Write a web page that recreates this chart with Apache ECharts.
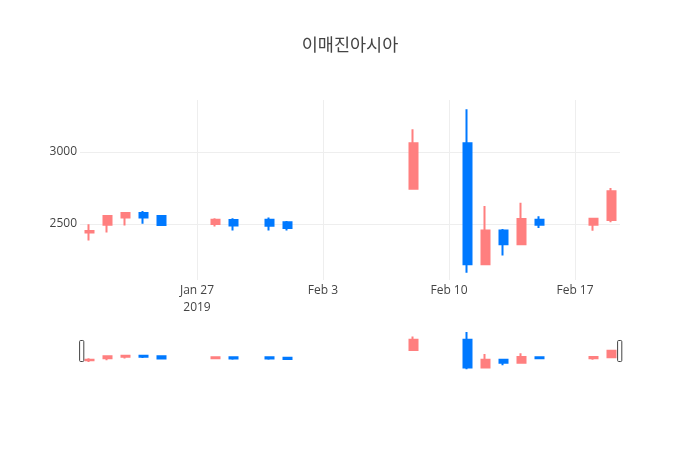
<!DOCTYPE html>
<html>
<head>
<meta charset="utf-8">
<script src="https://cdn.jsdelivr.net/npm/echarts@6/dist/echarts.min.js"></script>
<style>
html,body{margin:0;padding:0;background:#fff;}
#chart{width:700px;height:450px;}
</style>
</head>
<body>
<div id="chart"></div>
<script>
var titleText = '이매진아시아';
var dates = ['2019-01-21','2019-01-22','2019-01-23','2019-01-24','2019-01-25','2019-01-28','2019-01-29','2019-01-31','2019-02-01','2019-02-08','2019-02-11','2019-02-12','2019-02-13','2019-02-14','2019-02-15','2019-02-18','2019-02-19'];
var openVals  = [2440, 2495, 2545, 2576, 2555, 2500, 2527, 2530, 2512, 2745, 3060, 2220, 2455, 2360, 2530, 2495, 2528];
var closeVals = [2452, 2555, 2576, 2545, 2493, 2530, 2490, 2487, 2472, 3060, 2220, 2455, 2360, 2535, 2495, 2537, 2727];
var lowVals   = [2385, 2440, 2490, 2502, 2488, 2482, 2455, 2455, 2455, 2745, 2162, 2218, 2282, 2360, 2472, 2453, 2512];
var highVals  = [2498, 2558, 2580, 2590, 2560, 2540, 2540, 2545, 2520, 3158, 3296, 2625, 2465, 2648, 2553, 2540, 2750];
var xTickDates = ['2019-01-27','2019-02-03','2019-02-10','2019-02-17'];
var yTicks = [2500, 3000];
var xRange = ['2019-01-20T12:00:00Z', '2019-02-19T12:00:00Z'];
var yRange = [2111, 3361];

function ts(s){ return s.length > 10 ? Date.parse(s) : Date.parse(s + 'T00:00:00Z'); }
var months = ['Jan','Feb','Mar','Apr','May','Jun','Jul','Aug','Sep','Oct','Nov','Dec'];
var xTicks = xTickDates.map(ts);
var firstTick = xTicks[0];

var rows = dates.map(function(d, i){ return [ts(d), openVals[i], closeVals[i], lowVals[i], highVals[i]]; });

var upColor = '#FF7F7F';
var downColor = '#0079FF';
var fontFam = '"Open Sans", "Noto Sans CJK KR", sans-serif';

var candleStyle = {
  color: upColor, color0: downColor,
  borderColor: upColor, borderColor0: downColor,
  borderWidth: 2
};

var chart = echarts.init(document.getElementById('chart'), null, {renderer: 'canvas'});
chart.setOption({
  animation: false,
  backgroundColor: '#fff',
  title: {
    text: titleText, left: 'center', top: 31,
    textStyle: {fontSize: 17.5, fontWeight: 'normal', color: '#444', fontFamily: '"Noto Sans CJK KR", sans-serif'}
  },
  grid: [
    {left: 80, right: 80, top: 100, height: 180},
    {left: 80, right: 80, top: 332, height: 37.3}
  ],
  xAxis: [
    {
      type: 'value', gridIndex: 0, min: ts(xRange[0]), max: ts(xRange[1]),
      axisLine: {show: false},
      axisTick: {show: false, customValues: xTicks},
      splitLine: {show: true, lineStyle: {color: '#eee', width: 1}},
      axisLabel: {
        customValues: xTicks, margin: 2, fontSize: 12, color: '#444', lineHeight: 17,
        fontFamily: fontFam,
        formatter: function(v){
          var d = new Date(v);
          var s = months[d.getUTCMonth()] + ' ' + d.getUTCDate();
          if (Math.abs(v - firstTick) < 1000) s += '\n' + d.getUTCFullYear();
          return s;
        }
      }
    },
    {
      type: 'value', gridIndex: 1, min: ts(xRange[0]), max: ts(xRange[1]), show: false,
      splitLine: {show: false}
    }
  ],
  yAxis: [
    {
      type: 'value', gridIndex: 0, min: yRange[0], max: yRange[1],
      axisLine: {show: false},
      axisTick: {show: false, customValues: yTicks},
      splitLine: {show: true, lineStyle: {color: '#eee', width: 1}},
      axisLabel: {customValues: yTicks, margin: 3, fontSize: 12, color: '#444', fontFamily: fontFam,
        formatter: function(v){ return String(v); }}
    },
    {
      type: 'value', gridIndex: 1, min: 'dataMin', max: 'dataMax', show: false, scale: true,
      splitLine: {show: false}
    }
  ],
  dataZoom: [{
    type: 'slider', xAxisIndex: [1], filterMode: 'none', start: 0, end: 100,
    left: 80, right: 80, top: 330, height: 42,
    backgroundColor: 'rgba(0,0,0,0)', borderColor: 'rgba(0,0,0,0)',
    fillerColor: 'rgba(0,0,0,0)', showDataShadow: false, showDetail: false,
    brushSelect: false, moveHandleSize: 0,
    dataBackground: {lineStyle: {opacity: 0}, areaStyle: {opacity: 0}},
    selectedDataBackground: {lineStyle: {opacity: 0}, areaStyle: {opacity: 0}},
    handleIcon: 'path://M1,0 h2 a1,1 0 0 1 1,1 v18 a1,1 0 0 1 -1,1 h-2 a1,1 0 0 1 -1,-1 v-18 a1,1 0 0 1 1,-1 Z',
    handleSize: '50%',
    handleStyle: {color: '#fff', borderColor: '#444', borderWidth: 1},
    emphasis: {handleStyle: {color: '#fff', borderColor: '#444'}}
  }],
  series: [
    {
      type: 'candlestick', xAxisIndex: 0, yAxisIndex: 0,
      data: rows, encode: {x: 0, y: [1, 2, 3, 4]},
      barWidth: 8.5, itemStyle: candleStyle
    },
    {
      type: 'candlestick', xAxisIndex: 1, yAxisIndex: 1,
      data: rows, encode: {x: 0, y: [1, 2, 3, 4]},
      barWidth: 8.5, itemStyle: candleStyle, silent: true
    }
  ]
});
</script>
</body>
</html>
